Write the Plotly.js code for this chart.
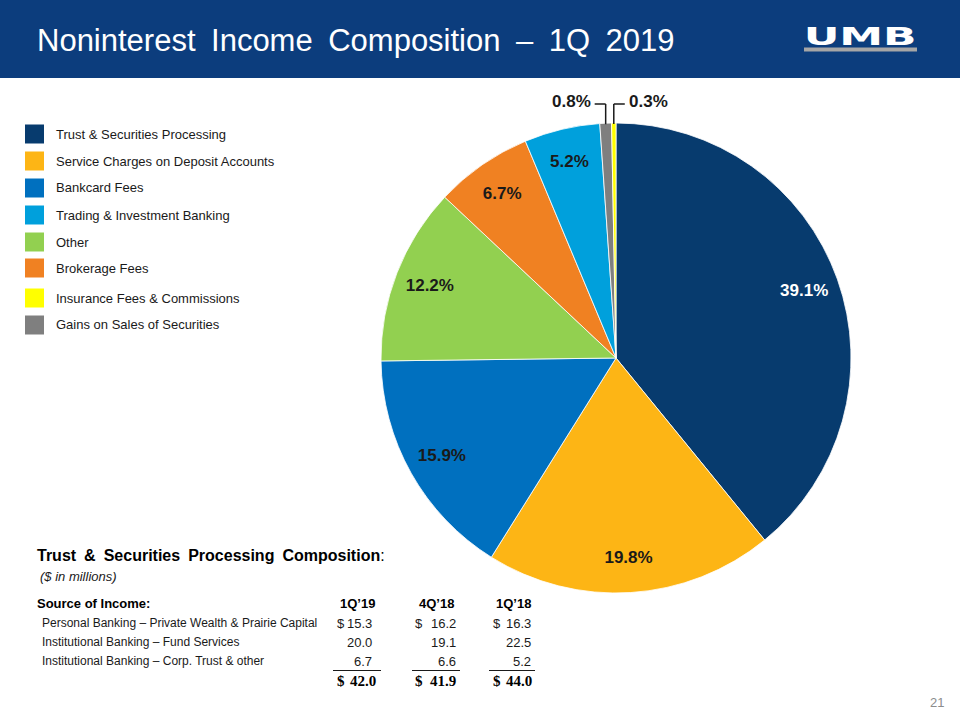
<!DOCTYPE html>
<html>
<head>
<meta charset="utf-8">
<script src="https://cdn.plot.ly/plotly-3.0.1.min.js"></script>
<style>
html,body{margin:0;padding:0;background:#fff;}
#chart{width:960px;height:720px;}
</style>
</head>
<body>
<div id="chart"></div>
<script>
// ---- Pie data (clockwise from 12 o'clock) ----
const sliceLabels = ["Trust & Securities Processing","Service Charges on Deposit Accounts","Bankcard Fees","Other","Brokerage Fees","Trading & Investment Banking","Gains on Sales of Securities","Insurance Fees & Commissions"];
const sliceValues = [39.1, 19.8, 15.9, 12.2, 6.7, 5.2, 0.8, 0.3];
const sliceColors = ["#073b6e","#fdb515","#0070bf","#92d050","#f08122","#00a0dc","#7f7f7f","#ffff00"];
const sliceTextColors = ["#ffffff","#1a1a1a","#1a1a1a","#1a1a1a","#1a1a1a","#1a1a1a","#1a1a1a","#1a1a1a"];
// small slices get a leader-line label outside the pie: -1 = to the left, +1 = to the right
const outsideSide = [0, 0, 0, 0, 0, 0, -1, 1];

// ---- Legend order (as shown on the slide) ----
const legendOrder = ["Trust & Securities Processing","Service Charges on Deposit Accounts","Bankcard Fees","Trading & Investment Banking","Other","Brokerage Fees","Insurance Fees & Commissions","Gains on Sales of Securities"];

// ---- Table data ----
const tableTitle = "Trust & Securities Processing Composition";
const tableUnit = "($ in millions)";
const tableHeader = "Source of Income:";
const periods = ["1Q\u201919","4Q\u201918","1Q\u201918"];
const rowLabels = ["Personal Banking \u2013 Private Wealth & Prairie Capital","Institutional Banking \u2013 Fund Services","Institutional Banking \u2013 Corp. Trust & other"];
const q119 = [15.3, 20.0, 6.7];
const q418 = [16.2, 19.1, 6.6];
const q118 = [16.3, 22.5, 5.2];
const totals = [42.0, 41.9, 44.0];

const W = 960, H = 720;
const px = x => x / W;
const py = y => 1 - y / H;

const shapes = [];
const annotations = [];
const F = "Liberation Sans, Arial, sans-serif";
const FS = "Liberation Serif, Times New Roman, serif";

// header band (fallback fill) + decorative gradient image
shapes.push({type:"rect", xref:"paper", yref:"paper", x0:0, x1:1, y0:py(78), y1:1, fillcolor:"#0c3d7d", line:{width:0}, layer:"below"});
const headerSvg = '<svg xmlns="http://www.w3.org/2000/svg" width="960" height="78">' +
  '<defs><linearGradient id="g" x1="0" x2="1" y1="0" y2="0"><stop offset="0" stop-color="#0b3366"/><stop offset="1" stop-color="#0d4a8e"/></linearGradient>' +
  '<pattern id="p" width="7" height="7" patternUnits="userSpaceOnUse" patternTransform="rotate(35)"><line x1="0" y1="0" x2="0" y2="7" stroke="#ffffff" stroke-opacity="0.10" stroke-width="1.2"/></pattern></defs>' +
  '<rect width="960" height="78" fill="url(#g)"/><rect x="560" width="400" height="78" fill="url(#p)"/></svg>';
const images = [{source:"data:image/svg+xml;base64," + btoa(headerSvg), xref:"paper", yref:"paper", x:0, y:1, sizex:1, sizey:78/H, xanchor:"left", yanchor:"top", sizing:"stretch", layer:"below"}];

// UMB logo underline
shapes.push({type:"rect", xref:"paper", yref:"paper", x0:px(804), x1:px(917), y0:py(51.5), y1:py(47.5), fillcolor:"#a6a6a6", line:{width:0}});

annotations.push({xref:"paper", yref:"paper", x:px(35), y:py(40), xanchor:"left", yanchor:"middle", showarrow:false,
  text:"Noninterest Income Composition \u2013 1Q 2019".replace(/ /g, "\u2002"), font:{family:F, size:31, color:"#ffffff"}});
annotations.push({xref:"paper", yref:"paper", x:px(860), y:py(36), xanchor:"center", yanchor:"middle", showarrow:false,
  text:"<b>UMB</b>", font:{family:"DejaVu Sans, Liberation Sans", size:25, color:"#ffffff"}});

// legend
const legendRowY = [134, 161, 188, 215, 242, 268, 298, 325];
legendOrder.forEach((name, i) => {
  const c = sliceColors[sliceLabels.indexOf(name)];
  const yc = legendRowY[i];
  shapes.push({type:"rect", xref:"paper", yref:"paper", x0:px(25), x1:px(44), y0:py(yc+9.5), y1:py(yc-9.5), fillcolor:c, line:{width:0}});
  annotations.push({xref:"paper", yref:"paper", x:px(54), y:py(yc), xanchor:"left", yanchor:"middle", showarrow:false,
    text:name, font:{family:F, size:13, color:"#1a1a1a"}});
});

// table
annotations.push({xref:"paper", yref:"paper", x:px(35), y:py(555), xanchor:"left", yanchor:"middle", showarrow:false,
  text:"<b>" + tableTitle.replace(/ /g, "\u2002") + "</b>:", font:{family:F, size:16, color:"#000000"}});
annotations.push({xref:"paper", yref:"paper", x:px(38), y:py(576), xanchor:"left", yanchor:"middle", showarrow:false,
  text:"<i>" + tableUnit + "</i>", font:{family:F, size:13, color:"#1a1a1a"}});
annotations.push({xref:"paper", yref:"paper", x:px(35), y:py(603), xanchor:"left", yanchor:"middle", showarrow:false,
  text:"<b>" + tableHeader + "</b>", font:{family:F, size:13, color:"#000000"}});

const colRight = [374, 458, 533];
const colDollar = [341, 419, 497];
const colCenter = [357, 436, 513];
const totalRight = [378, 458, 534];
const rowY = [623, 642, 661];
const totalY = 681;
const underlineY = 670.5;
const series = [q119, q418, q118];

periods.forEach((p, j) => {
  annotations.push({xref:"paper", yref:"paper", x:px(colCenter[j]), y:py(603), xanchor:"center", yanchor:"middle", showarrow:false,
    text:"<b>" + p + "</b>", font:{family:F, size:13, color:"#000000"}});
});
rowLabels.forEach((lab, i) => {
  annotations.push({xref:"paper", yref:"paper", x:px(40), y:py(rowY[i]), xanchor:"left", yanchor:"middle", showarrow:false,
    text:lab, font:{family:F, size:12, color:"#1a1a1a"}});
  series.forEach((vals, j) => {
    annotations.push({xref:"paper", yref:"paper", x:px(colRight[j]), y:py(rowY[i]), xanchor:"right", yanchor:"middle", showarrow:false,
      text:vals[i].toFixed(1), font:{family:F, size:13, color:"#1a1a1a"}});
    if (i === 0) {
      annotations.push({xref:"paper", yref:"paper", x:px(colDollar[j]), y:py(rowY[i]), xanchor:"center", yanchor:"middle", showarrow:false,
        text:"$", font:{family:F, size:13, color:"#1a1a1a"}});
    }
  });
});
const underlineX = [[333, 381], [412, 460], [489, 535]];
underlineX.forEach(u => {
  shapes.push({type:"line", xref:"paper", yref:"paper", x0:px(u[0]), x1:px(u[1]), y0:py(underlineY), y1:py(underlineY), line:{color:"#1a1a1a", width:1}});
});
totals.forEach((t, j) => {
  annotations.push({xref:"paper", yref:"paper", x:px(totalRight[j]), y:py(totalY), xanchor:"right", yanchor:"middle", showarrow:false,
    text:"<b>" + t.toFixed(1) + "</b>", font:{family:FS, size:15, color:"#000000"}});
  annotations.push({xref:"paper", yref:"paper", x:px(colDollar[j]), y:py(totalY), xanchor:"center", yanchor:"middle", showarrow:false,
    text:"<b>$</b>", font:{family:FS, size:15, color:"#000000"}});
});

// page number
annotations.push({xref:"paper", yref:"paper", x:px(946), y:py(702), xanchor:"right", yanchor:"middle", showarrow:false,
  text:"21", font:{family:F, size:13, color:"#8c8c8c"}});

// pie geometry
const cx = 616, cy = 358, r = 235;
const domain = {x:[px(cx-r), px(cx+r)], y:[py(cy+r), py(cy-r)]};

// leader-line labels for the tiny slices, positioned from the data (slice mid-angle)
const total = sliceValues.reduce((a, b) => a + b, 0);
let cum = 0;
sliceValues.forEach((v, i) => {
  const mid = (cum + v / 2) / total * 2 * Math.PI;
  cum += v;
  const side = outsideSide[i];
  if (!side) return;
  const sx = cx + r * Math.sin(mid), sy = cy - r * Math.cos(mid);
  const elbowY = cy - r - 19;
  const armX = sx + side * 11;
  shapes.push({type:"line", xref:"paper", yref:"paper", x0:px(sx), x1:px(sx), y0:py(sy + 1), y1:py(elbowY), line:{color:"#1a1a1a", width:1.5}});
  shapes.push({type:"line", xref:"paper", yref:"paper", x0:px(sx), x1:px(armX), y0:py(elbowY), y1:py(elbowY), line:{color:"#1a1a1a", width:1.5}});
  annotations.push({xref:"paper", yref:"paper", x:px(armX + side * 2), y:py(elbowY - 2), xanchor: side < 0 ? "right" : "left", yanchor:"middle", showarrow:false,
    text:"<b>" + v.toFixed(1) + "%</b>", font:{family:F, size:17, color:"#1a1a1a"}});
});

// filled pie
const pieTrace = {
  type:"pie",
  labels:sliceLabels,
  values:sliceValues,
  sort:false,
  direction:"clockwise",
  rotation:0,
  marker:{colors:sliceColors, line:{color:"#ffffff", width:0.8}},
  textinfo:"none",
  hoverinfo:"label+value",
  showlegend:false,
  domain:domain
};
// transparent ring on top, used only to place the percentage labels near the rim
const labelTrace = {
  type:"pie",
  labels:sliceLabels,
  values:sliceValues,
  sort:false,
  direction:"clockwise",
  rotation:0,
  hole:0.7,
  marker:{colors:sliceColors.map(() => "rgba(0,0,0,0)"), line:{width:0}},
  texttemplate:"%{value:.1f}%",
  textposition:outsideSide.map(s => s ? "none" : "inside"),
  insidetextorientation:"horizontal",
  textfont:{family:F, size:17, weight:"bold", color:sliceTextColors},
  hoverinfo:"skip",
  showlegend:false,
  domain:domain
};

const layout = {
  width:W, height:H,
  margin:{l:0, r:0, t:0, b:0},
  paper_bgcolor:"#ffffff",
  showlegend:false,
  shapes:shapes,
  annotations:annotations,
  images:images,
  font:{family:F}
};

Plotly.newPlot("chart", [pieTrace, labelTrace], layout, {displayModeBar:false, staticPlot:true}).then(() => {
  // widen the logo wordmark to its extended proportions
  document.querySelectorAll("#chart .annotation-text").forEach(t => {
    if (t.textContent === "UMB") {
      t.setAttribute("textLength", "113");
      t.setAttribute("lengthAdjust", "spacingAndGlyphs");
    }
  });
});
</script>
</body>
</html>
